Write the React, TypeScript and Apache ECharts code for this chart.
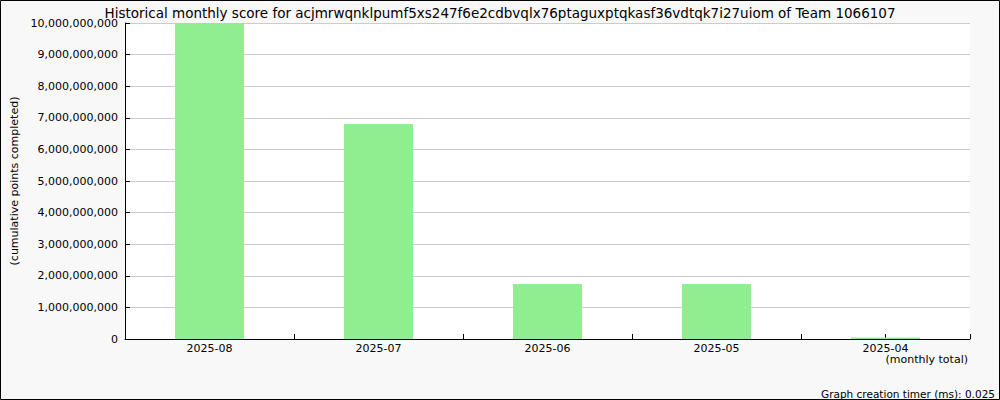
import React, { useEffect, useRef } from "react";
import * as echarts from "echarts";

const titleText =
  "Historical monthly score for acjmrwqnklpumf5xs247f6e2cdbvqlx76ptaguxptqkasf36vdtqk7i27uiom of Team 1066107";
const categories = ["2025-08", "2025-07", "2025-06", "2025-05", "2025-04"];
const scores = [10000000000, 6800000000, 1740000000, 1740000000, 50000000];
const yAxisName = "(cumulative points completed)";
const xAxisName = "(monthly total)";
const footerText = "Graph creation timer (ms): 0.025";
const halfBands = ["a", "b", "c", "d", "e", "f", "g", "h", "i", "j"];

const FONT = "DejaVu Sans";

export default function App() {
  const ref = useRef<HTMLDivElement>(null);
  useEffect(() => {
    document.body.style.margin = "0";
    const chart = echarts.init(ref.current!, null, { renderer: "svg" });
    chart.setOption({
      animation: false,
      backgroundColor: "#f8f8f8",
      textStyle: { fontFamily: FONT },
      title: {
        text: titleText,
        left: "center",
        top: 1,
        textStyle: { fontFamily: FONT, fontSize: 13.5, fontWeight: "normal", color: "#000" },
      },
      grid: {
        left: 125,
        right: 30,
        top: 23,
        bottom: 61,
        show: true,
        backgroundColor: "#fff",
        borderWidth: 0,
      },
      xAxis: [
        {
          type: "category",
          data: categories,
          axisLine: { lineStyle: { color: "#000", width: 1 } },
          axisTick: { show: false },
          axisLabel: { color: "#000", fontSize: 11, fontFamily: FONT, margin: 4 },
        },
        {
          type: "category",
          data: halfBands,
          position: "bottom",
          axisLine: { show: false },
          axisTick: { show: true, inside: true, length: 5, lineStyle: { color: "#000" } },
          axisLabel: { show: false },
        },
      ],
      yAxis: {
        type: "value",
        min: 0,
        max: 10000000000,
        interval: 1000000000,
        name: yAxisName,
        nameLocation: "middle",
        nameRotate: 90,
        nameGap: 97,
        nameTextStyle: { color: "#000", fontSize: 11, fontFamily: FONT },
        axisLine: { show: true, lineStyle: { color: "#000", width: 1 } },
        axisTick: { show: true, inside: true, length: 5, lineStyle: { color: "#000" } },
        splitLine: { show: true, lineStyle: { color: "#cccccc", width: 1 } },
        axisLabel: {
          color: "#000",
          fontSize: 11,
          fontFamily: FONT,
          margin: 7,
          formatter: (v: number) => v.toLocaleString("en-US"),
        },
      },
      series: [
        {
          type: "bar",
          data: scores,
          barWidth: 69,
          itemStyle: { color: "#90ee90" },
          xAxisIndex: 0,
        },
      ],
      graphic: [
        {
          type: "rect",
          shape: { x: 0.5, y: 0.5, width: 999, height: 399 },
          style: { fill: "none", stroke: "#000", lineWidth: 1 },
          silent: true,
          z: 100,
        },
        {
          type: "text",
          right: 32,
          top: 354,
          style: { text: xAxisName, fill: "#000", font: `11px ${FONT}` },
        },
        {
          type: "text",
          right: 5,
          top: 388,
          style: { text: footerText, fill: "#000", font: `10.5px ${FONT}` },
        },
      ],
    });
    return () => chart.dispose();
  }, []);
  return <div ref={ref} style={{ width: 1000, height: 400 }} />;
}
